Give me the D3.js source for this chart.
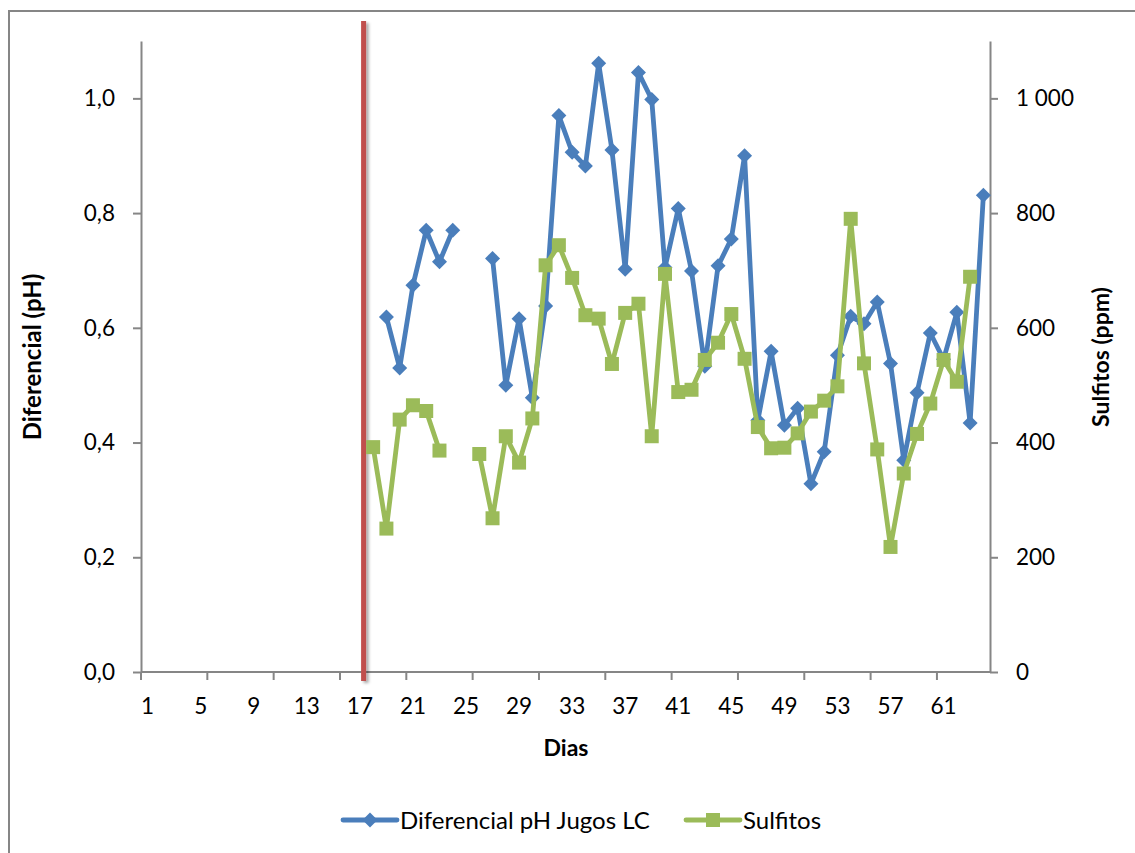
<!DOCTYPE html>
<html>
<head>
<meta charset="utf-8">
<script src="https://cdn.jsdelivr.net/npm/d3@7"></script>
<style>
  html, body { margin: 0; padding: 0; background: #fff; }
  svg { display: block; font-family: Lato, "Liberation Sans", sans-serif; }
</style>
</head>
<body>
<svg id="chart" width="1135" height="853"></svg>
<script>
// Days on the category axis
const days = d3.range(1, 65);
const dayLabels = [1, 5, 9, 13, 17, 21, 25, 29, 33, 37, 41, 45, 49, 53, 57, 61];
const dayTickMarks = [1, 6, 11, 16, 21, 26, 31, 36, 41, 46, 51, 56, 61];

// Diferencial pH Jugos LC (left axis); null = no measurement
const phDiff = [
  null, null, null, null, null, null, null, null, null, null,
  null, null, null, null, null, null, null, null, 0.619, 0.530,
  0.674, 0.770, 0.715, 0.770, null, null, 0.721, 0.500, 0.616, 0.478,
  0.638, 0.970, 0.906, 0.882, 1.061, 0.910, 0.702, 1.045, 0.998, 0.705,
  0.808, 0.699, 0.533, 0.708, 0.755, 0.900, 0.439, 0.559, 0.430, 0.460,
  0.328, 0.384, 0.552, 0.620, 0.607, 0.645, 0.538, 0.369, 0.487, 0.591,
  0.545, 0.627, 0.434, 0.831
];

// Sulfitos in ppm (right axis)
const sulfitos = [
  null, null, null, null, null, null, null, null, null, null,
  null, null, null, null, null, null, null, 392, 250, 440,
  465, 455, 386, null, null, 380, 268, 411, 365, 442,
  709, 744, 687, 622, 616, 537, 626, 642, 411, 694,
  488, 492, 544, 574, 624, 546, 427, 390, 391, 416,
  454, 473, 498, 790, 538, 388, 218, 346, 415, 468,
  544, 506, 689, null
];

const leftTicks = [0, 0.2, 0.4, 0.6, 0.8, 1.0];
const leftTickLabels = ["0,0", "0,2", "0,4", "0,6", "0,8", "1,0"];
const rightTicks = [0, 200, 400, 600, 800, 1000];
const rightTickLabels = ["0", "200", "400", "600", "800", "1 000"];

// Day on which the process change is marked
const markerDay = 17;

const seriesNames = ["Diferencial pH Jugos LC", "Sulfitos"];
const blue = "#4A7EBB", green = "#9BBB59", red = "#C0504D", axisGrey = "#868686";

const svg = d3.select("#chart");
const plotLeft = 141, plotRight = 990, plotTop = 41, plotBottom = 672;

const x = d3.scaleBand().domain(days).range([plotLeft, plotRight]).paddingInner(0).paddingOuter(0);
const cx = d => x(d) + x.bandwidth() / 2;
const yL = d3.scaleLinear().domain([0, 1.1]).range([plotBottom, plotTop]);
const yR = d3.scaleLinear().domain([0, 1100]).range([plotBottom, plotTop]);

const defs = svg.append("defs");
const shadow = defs.append("filter").attr("id", "shadow")
  .attr("filterUnits", "userSpaceOnUse")
  .attr("x", 300).attr("y", 0).attr("width", 120).attr("height", 720);
shadow.append("feDropShadow").attr("dx", 2.5).attr("dy", 2).attr("stdDeviation", 1.5)
  .attr("flood-color", "#000").attr("flood-opacity", 0.35);

// Chart frame
svg.append("rect").attr("x", 9).attr("y", 11).attr("width", 1140).attr("height", 860)
  .attr("fill", "none").attr("stroke", axisGrey).attr("stroke-width", 2);

// Left axis
const gL = svg.append("g").attr("transform", `translate(${plotLeft},0)`)
  .call(d3.axisLeft(yL).tickValues(leftTicks)
    .tickFormat((d, i) => leftTickLabels[i]).tickSize(8).tickSizeOuter(0).tickPadding(18));
// Right axis
const gR = svg.append("g").attr("transform", `translate(${plotRight},0)`)
  .call(d3.axisRight(yR).tickValues(rightTicks)
    .tickFormat((d, i) => rightTickLabels[i]).tickSize(8).tickSizeOuter(0).tickPadding(18));
// Bottom axis: labels every 4 days
const gB = svg.append("g").attr("transform", `translate(0,${plotBottom})`)
  .call(d3.axisBottom(x).tickValues(dayLabels).tickSize(0).tickSizeOuter(0).tickPadding(26));
// Bottom tick marks every 5 days, at category boundaries
gB.selectAll(".mark").data(dayTickMarks).enter().append("line")
  .attr("class", "mark")
  .attr("x1", d => x(d)).attr("x2", d => x(d))
  .attr("y1", 0).attr("y2", 8);
gB.select(".domain").attr("d", `M${plotLeft},0H${plotRight}`);

[gL, gR, gB].forEach(g => {
  g.selectAll(".domain").attr("stroke", axisGrey).attr("stroke-width", 2);
  g.selectAll("line").attr("stroke", axisGrey).attr("stroke-width", 2);
  g.selectAll("text").attr("fill", "#000").attr("font-size", 22.5)
    .attr("font-family", "Lato, 'Liberation Sans', sans-serif");
});

// Axis titles
svg.append("text").attr("transform", "translate(41,357) rotate(-90)")
  .attr("text-anchor", "middle").attr("font-weight", "bold").attr("font-size", 24)
  .text("Diferencial (pH)");
svg.append("text").attr("transform", "translate(1109,357) rotate(-90)")
  .attr("text-anchor", "middle").attr("font-weight", "bold").attr("font-size", 23)
  .text("Sulfitos (ppm)");
svg.append("text").attr("x", 566).attr("y", 756)
  .attr("text-anchor", "middle").attr("font-weight", "bold").attr("font-size", 23)
  .text("Dias");

// Marker bar for the process change
const markerX = x(markerDay) + x.bandwidth() * 0.78;
svg.append("rect")
  .attr("x", markerX - 2.5).attr("y", 21).attr("width", 5).attr("height", 660)
  .attr("fill", red).attr("filter", "url(#shadow)");

const diamond = s => `M0,${-s}L${s},0L0,${s}L${-s},0Z`;
const square = s => `M${-s},${-s}H${s}V${s}H${-s}Z`;

function drawSeries(values, yScale, color, shape) {
  const pts = days.map((d, i) => ({ d, v: values[i] }));
  const line = d3.line().defined(p => p.v !== null)
    .x(p => cx(p.d)).y(p => yScale(p.v));
  const g = svg.append("g");
  g.append("path").datum(pts).attr("d", line)
    .attr("fill", "none").attr("stroke", color).attr("stroke-width", 4.8)
    .attr("stroke-linejoin", "round").attr("stroke-linecap", "round");
  g.selectAll("path.pt").data(pts.filter(p => p.v !== null)).enter().append("path")
    .attr("class", "pt")
    .attr("transform", p => `translate(${cx(p.d)},${yScale(p.v)})`)
    .attr("d", shape).attr("fill", color);
}

drawSeries(phDiff, yL, blue, diamond(7.5));
drawSeries(sulfitos, yR, green, square(7));

// Legend
const legend = [
  { name: seriesNames[0], color: blue, shape: diamond(7.5), x0: 343 },
  { name: seriesNames[1], color: green, shape: square(7), x0: 686 }
];
const lg = svg.append("g").selectAll("g").data(legend).enter().append("g")
  .attr("transform", d => `translate(${d.x0},820)`);
lg.append("line").attr("x1", 0).attr("x2", 54).attr("y1", 0).attr("y2", 0)
  .attr("stroke", d => d.color).attr("stroke-width", 4.8).attr("stroke-linecap", "round");
lg.append("path").attr("transform", "translate(27,0)").attr("d", d => d.shape)
  .attr("fill", d => d.color);
lg.append("text").attr("x", 57).attr("y", 8.5).attr("font-size", 24)
  .text(d => d.name);
</script>
</body>
</html>
